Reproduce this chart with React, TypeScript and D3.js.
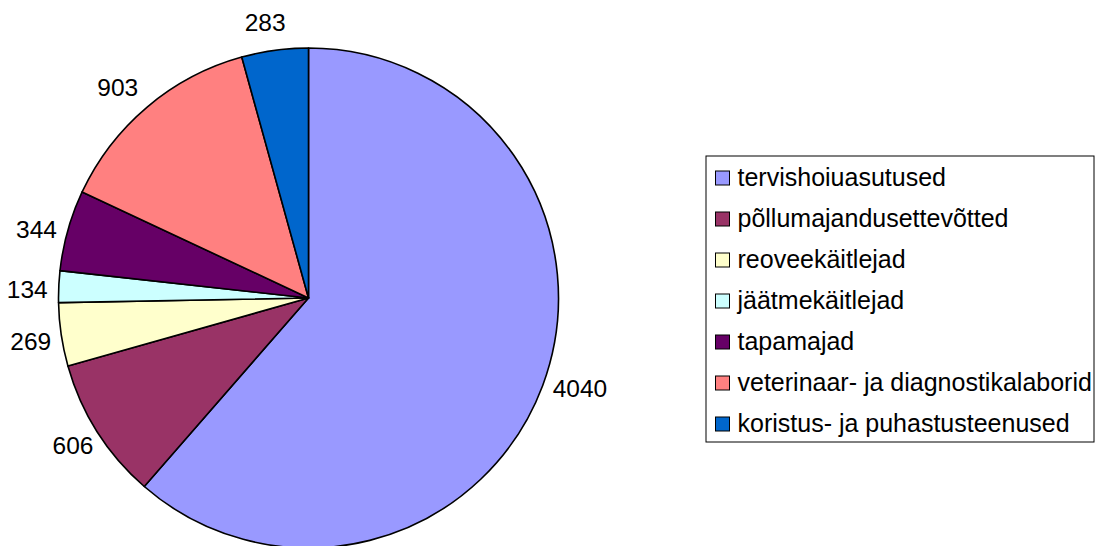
import React from "react";
import * as d3 from "d3";

const categories = [
  "tervishoiuasutused",
  "põllumajandusettevõtted",
  "reoveekäitlejad",
  "jäätmekäitlejad",
  "tapamajad",
  "veterinaar- ja diagnostikalaborid",
  "koristus- ja puhastusteenused",
];
const values = [4040, 606, 269, 134, 344, 903, 283];
const colors = ["#9999FF", "#993366", "#FFFFCC", "#CCFFFF", "#660066", "#FF8080", "#0066CC"];

const W = 1102;
const H = 546;
const FONT = "'Liberation Sans', Arial, sans-serif";

export default function App() {
  const cx = 308.5;
  const cy = 298;
  const r = 250;
  const pie = d3
    .pie<number>()
    .sort(null)
    .value((d) => d)
    .startAngle(0)
    .endAngle(2 * Math.PI);
  const arcs = pie(values);
  const arc = d3.arc<d3.PieArcDatum<number>>().innerRadius(0).outerRadius(r);

  const labelFs = 24.5;
  const legendFs = 25;
  const gap = 11;
  const labelH = 17;

  const legendX = 706;
  const legendY = 156;
  const legendW = 388;
  const legendH = 286;
  const rowY = d3.scaleLinear().domain([0, 1]).range([178, 219]);

  return (
    <svg
      width={W}
      height={H}
      style={{ position: "fixed", left: 0, top: 0, background: "#fff" }}
      fontFamily={FONT}
    >
      <rect width={W} height={H} fill="#fff" />
      <g transform={`translate(${cx},${cy})`}>
        {arcs.map((a, i) => (
          <path key={i} d={arc(a) || ""} fill={colors[i]} stroke="#000" strokeWidth={1.6} strokeLinejoin="round" />
        ))}
        {arcs.map((a, i) => {
          const mid = (a.startAngle + a.endAngle) / 2 - 0.015;
          const dx = Math.sin(mid);
          const dy = -Math.cos(mid);
          const txt = String(values[i]);
          const w = txt.length * 0.556 * labelFs;
          const R = r + gap + (dy < -0.5 ? 9 : 0);
          const x = dx * R + dx * (w / 2);
          const y = dy * R + dy * (labelH / 2);
          return (
            <text key={i} x={x} y={y + labelH / 2} textAnchor="middle" fontSize={labelFs} fill="#000">
              {txt}
            </text>
          );
        })}
      </g>
      <rect x={legendX} y={legendY} width={legendW} height={legendH} fill="#fff" stroke="#000" strokeWidth={1} />
      {categories.map((c, i) => (
        <g key={c}>
          <rect x={715.5} y={rowY(i) - 7} width={14} height={14} fill={colors[i]} stroke="#000" strokeWidth={1} />
          <text x={737.5} y={rowY(i) + 8} fontSize={legendFs} fill="#000">
            {c}
          </text>
        </g>
      ))}
    </svg>
  );
}
